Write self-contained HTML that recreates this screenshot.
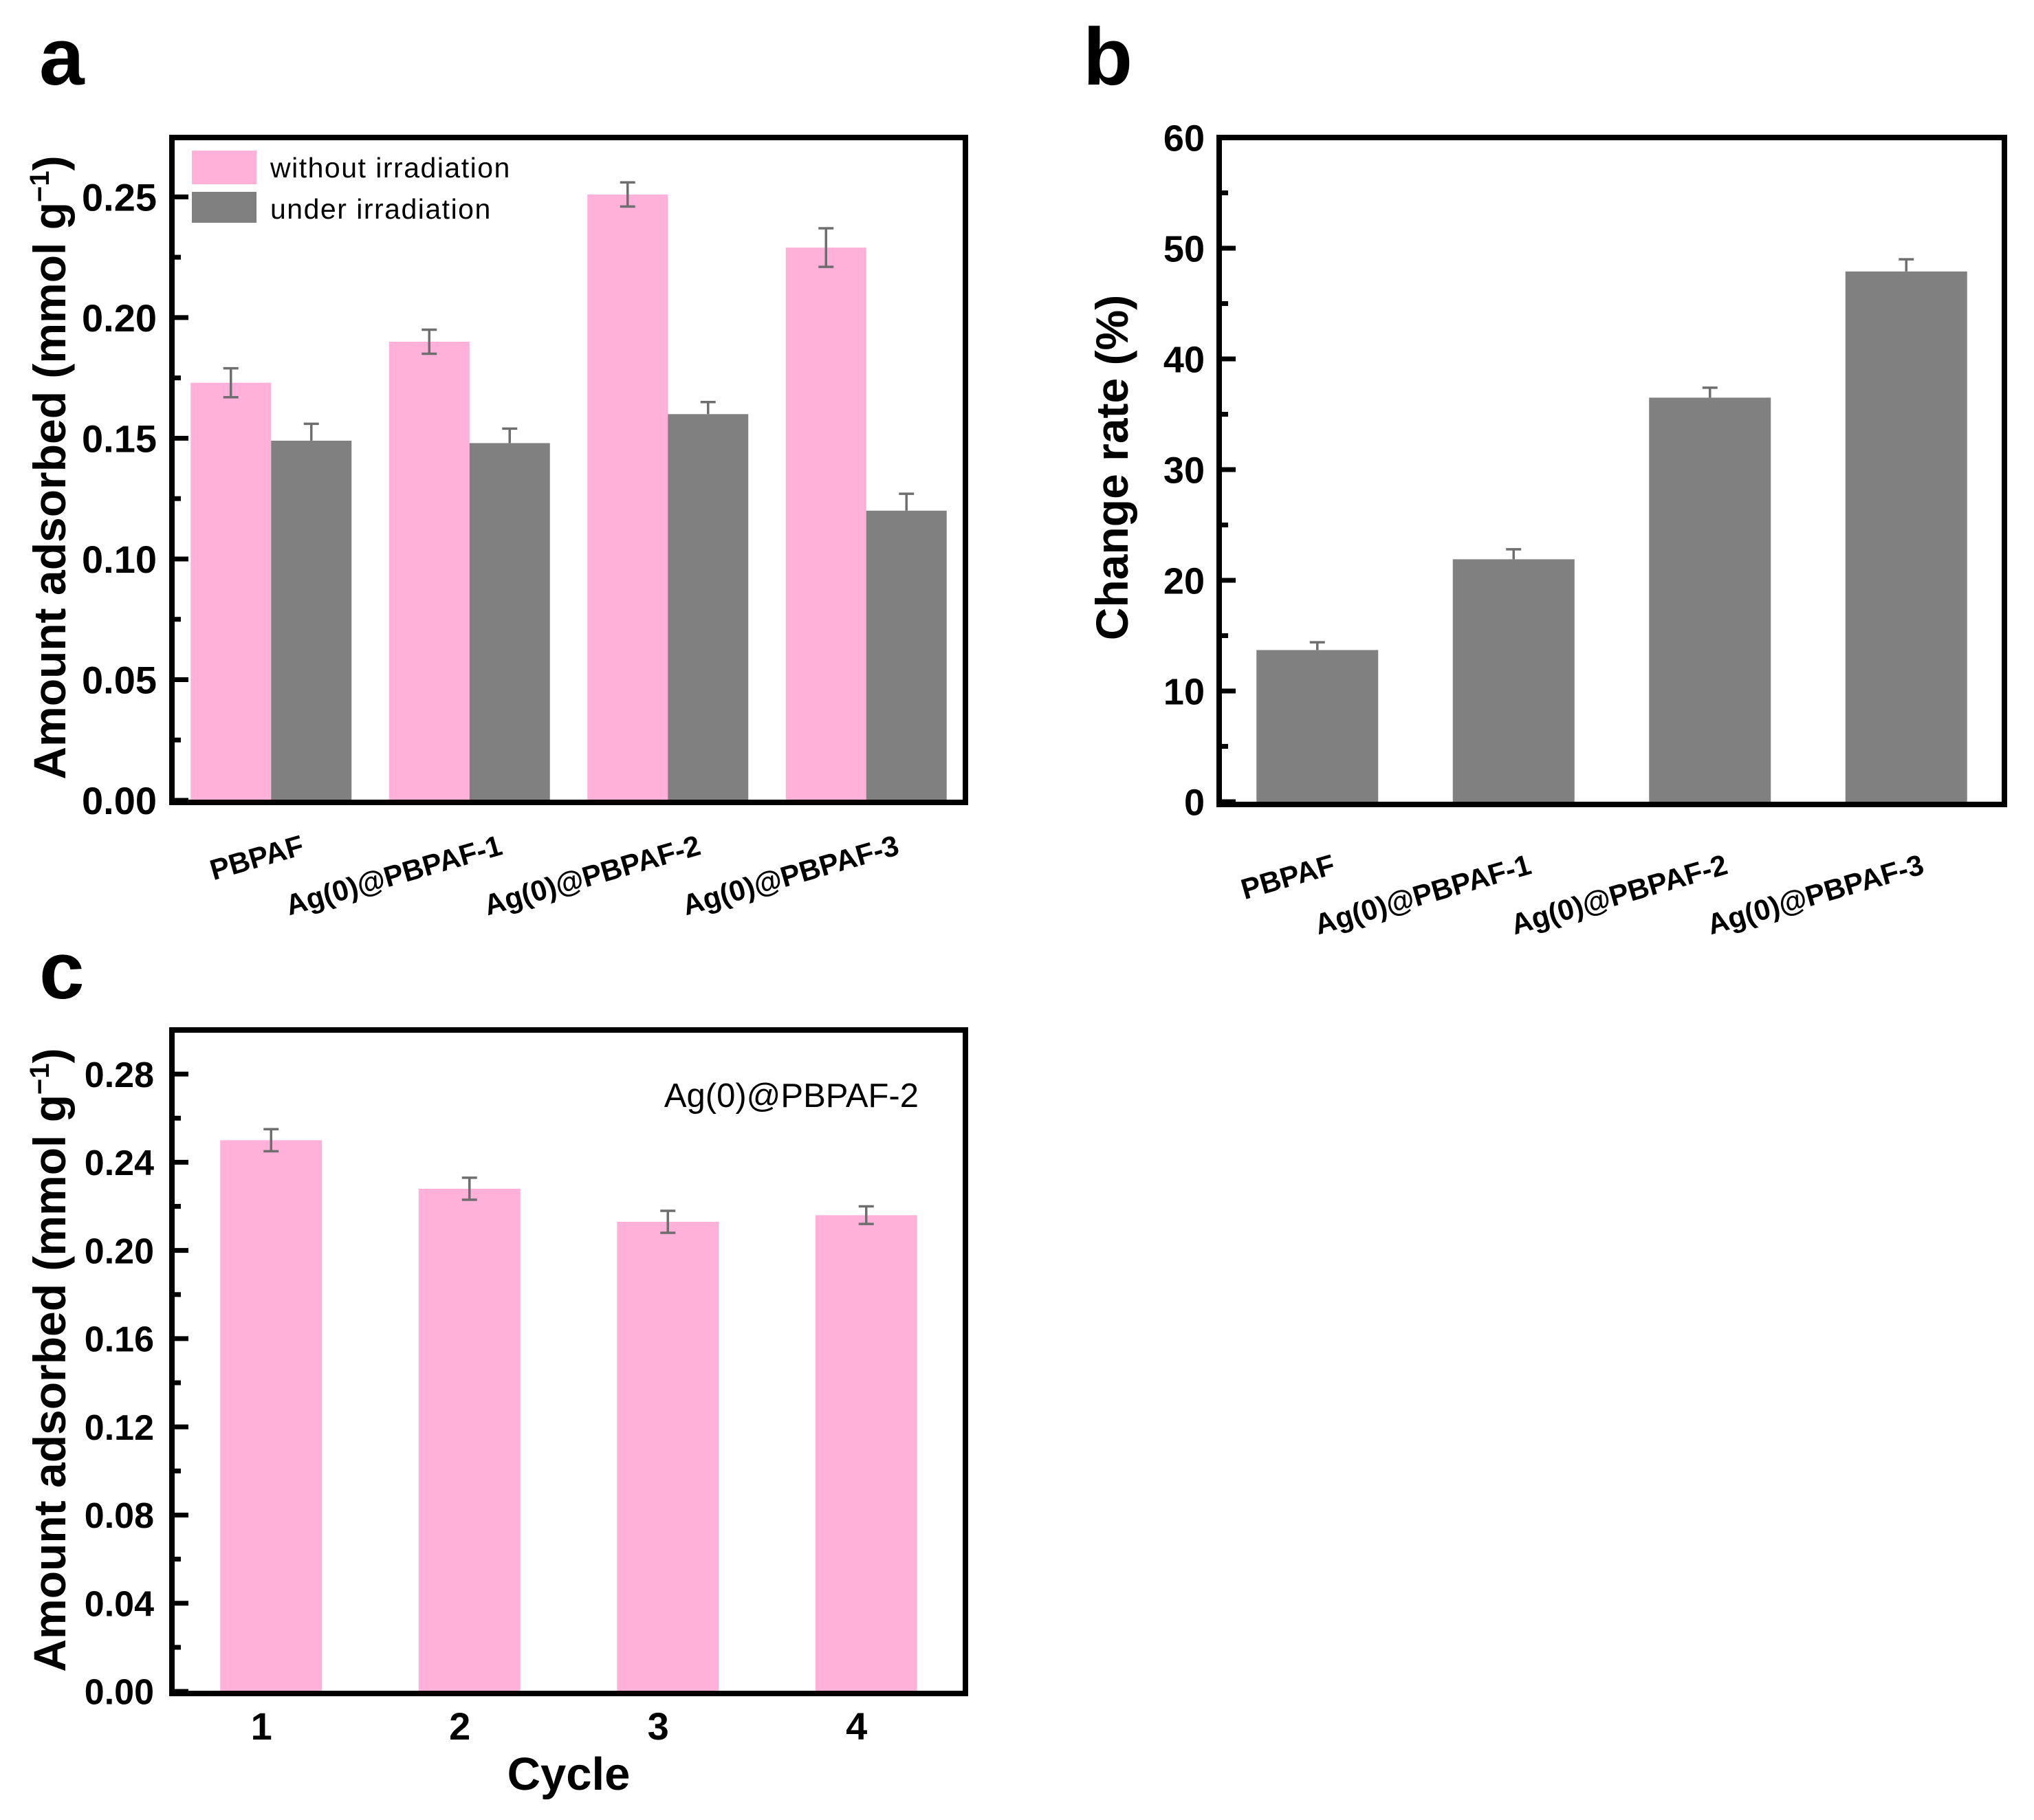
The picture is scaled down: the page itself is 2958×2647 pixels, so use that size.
<!DOCTYPE html>
<html><head><meta charset="utf-8"><style>
html,body{margin:0;padding:0;background:#fff;}
svg{display:block;font-family:"Liberation Sans",Arial,sans-serif;}
</style></head><body>
<svg id="fig" width="2958" height="2647" viewBox="0 0 2958 2647" xmlns="http://www.w3.org/2000/svg">
<text x="57" y="123" font-size="118" font-weight="bold">a</text>
<text x="1575" y="123" font-size="118" font-weight="bold">b</text>
<text x="57" y="1452" font-size="118" font-weight="bold">c</text>
<g id="pa"></g>
<g id="pb"></g>
<g id="pc"></g>
</svg>
<script>
// Panel a data
const catsA = ["PBPAF", "Ag(0)@PBPAF-1", "Ag(0)@PBPAF-2", "Ag(0)@PBPAF-3"];
const withoutIrr = [0.173, 0.190, 0.251, 0.229];
const withoutErr = [0.006, 0.005, 0.005, 0.008];
const underIrr = [0.149, 0.148, 0.160, 0.120];
const underErr = [0.007, 0.006, 0.005, 0.007];
const ticksA = ["0.00", "0.05", "0.10", "0.15", "0.20", "0.25"];
// Panel b data
const catsB = ["PBPAF", "Ag(0)@PBPAF-1", "Ag(0)@PBPAF-2", "Ag(0)@PBPAF-3"];
const changeRate = [13.7, 21.9, 36.5, 47.9];
const changeErr = [0.7, 0.9, 0.9, 1.1];
const ticksB = ["0", "10", "20", "30", "40", "50", "60"];
// Panel c data
const cycles = ["1", "2", "3", "4"];
const cycleVals = [0.250, 0.228, 0.213, 0.216];
const cycleErr = [0.005, 0.005, 0.005, 0.004];
const ticksC = ["0.00", "0.04", "0.08", "0.12", "0.16", "0.20", "0.24", "0.28"];

const NS = "http://www.w3.org/2000/svg";
const PINK = "#ffb1da", GRAY = "#808080", ERR = "#6e6e6e";
function mk(parent, tag, attrs, text) {
  const e = document.createElementNS(NS, tag);
  for (const k in attrs) e.setAttribute(k, attrs[k]);
  if (text !== undefined) e.textContent = text;
  parent.appendChild(e);
  return e;
}
function axes(g, L, R, T, B, ymax, y0px, tickLabels, tickStep, minorStep, labelRight, fmtSize, xticks, n, weight) {
  const y = v => y0px - v / ymax * (y0px - T);
  const x = i => L + (R - L) / n * (i + 0.5);
  for (let v = 0; v <= ymax + 1e-9; v += minorStep) {
    const isMajor = Math.abs(v / tickStep - Math.round(v / tickStep)) < 1e-6;
    const t = mk(g, "line", {x1: L, x2: L + (isMajor ? 24 : 13), y1: y(v), y2: y(v), stroke: "#000", "stroke-width": 7});
    
    
  }
  tickLabels.forEach((lab, i) => {
    const t = mk(g, "text", {x: labelRight, y: y(i * tickStep) + fmtSize * 0.36, "font-size": fmtSize, "font-weight": weight || "bold", "text-anchor": "end"}, lab);
    
    
  });
  if (xticks) {
    for (let i = 0; i < n; i++) {
      const t = mk(g, "line", {x1: x(i), x2: x(i), y1: B, y2: B - 20, stroke: "#000", "stroke-width": 7});
      
      
    }
  }
  return {x, y};
}
function frame(g, L, R, T, B) {
  const f = mk(g, "rect", {x: L, y: T, width: R - L, height: B - T, fill: "none", stroke: "#000", "stroke-width": 8});
  
  
}
function errbar(g, cx, top, bot, cap, full) {
  const e = mk(g, "path", {d: `M${cx},${bot}V${top}M${cx-cap},${top}H${cx+cap}` + (full ? `M${cx-cap},${bot}H${cx+cap}` : ""), stroke: ERR, "stroke-width": 3.5, fill: "none"});
  
  
}
function xlabels(g, cats, x, dx, yb) {
  cats.forEach((c, i) => {
    const ax = x(i) + dx;
    const t = mk(g, "text", {x: ax, y: yb, "font-size": 42, "font-weight": "bold", "text-anchor": "end", transform: `rotate(-16 ${ax} ${yb})`}, c);
    
    
  });
}

// ---- Panel a ----
(function(){
  const g = document.getElementById("pa");
  const L = 250, R = 1404, T = 200, B = 1167;
  const {x, y} = axes(g, L, R, T, B, 0.2746, 1164, ticksA, 0.05, 0.025, 228, 56, false, 4);
  const bw = 117;
  withoutIrr.forEach((v, i) => {
    const bx = x(i) - bw;
    const r = mk(g, "rect", {x: bx, y: y(v), width: bw, height: 1164 - y(v), fill: PINK});
    
    
    errbar(g, bx + bw / 2, y(v + withoutErr[i]), y(v - withoutErr[i]), 11, true);
  });
  underIrr.forEach((v, i) => {
    const bx = x(i);
    const r = mk(g, "rect", {x: bx, y: y(v), width: bw, height: 1164 - y(v), fill: GRAY});
    
    
    errbar(g, bx + bw / 2, y(v + underErr[i]), y(v), 11, false);
  });
  frame(g, L, R, T, B);
  const s1 = mk(g, "rect", {x: 279, y: 219, width: 94, height: 49, fill: PINK});
  
  
  const s2 = mk(g, "rect", {x: 279, y: 279, width: 94, height: 45, fill: GRAY});
  
  
  const l1 = mk(g, "text", {x: 393, y: 258, "font-size": 41, "letter-spacing": 1.5}, "without irradiation");
  
  
  const l2 = mk(g, "text", {x: 393, y: 318, "font-size": 41, "letter-spacing": 1.5}, "under irradiation");
  
  
  const yt = mk(g, "text", {x: 0, y: 0, "font-size": 66, "font-weight": "bold", "text-anchor": "middle", transform: "translate(95 680) rotate(-90)"});
  yt.innerHTML = 'Amount adsorbed (mmol g<tspan dy="-24" font-size="40">−1</tspan><tspan dy="24">)</tspan>';
  
  
  xlabels(g, catsA, x, 50, 1242);
})();

// ---- Panel b ----
(function(){
  const g = document.getElementById("pb");
  const L = 1773, R = 2915, T = 200, B = 1170;
  const {x, y} = axes(g, L, R, T, B, 60, 1166, ticksB, 10, 5, 1752, 54, true, 4);
  const bw = 177;
  changeRate.forEach((v, i) => {
    const r = mk(g, "rect", {x: x(i) - bw / 2, y: y(v), width: bw, height: 1166 - y(v), fill: GRAY});
    
    
    errbar(g, x(i), y(v + changeErr[i]), y(v), 11, false);
  });
  frame(g, L, R, T, B);
  const yt = mk(g, "text", {x: 0, y: 0, "font-size": 66, "font-weight": "bold", "text-anchor": "middle", transform: "translate(1640 680) rotate(-90)"}, "Change rate (%)");
  
  
  xlabels(g, catsB, x, 28, 1270);
})();

// ---- Panel c ----
(function(){
  const g = document.getElementById("pc");
  const L = 250, R = 1404, T = 1498, B = 2463;
  const {x, y} = axes(g, L, R, T, B, 0.30, 2460, ticksC, 0.04, 0.02, 224, 52, false, 4, "bold");
  const bw = 148;
  cycleVals.forEach((v, i) => {
    const r = mk(g, "rect", {x: x(i) - bw / 2, y: y(v), width: bw, height: 2460 - y(v), fill: PINK});
    
    
    errbar(g, x(i), y(v + cycleErr[i]), y(v - cycleErr[i]), 11, true);
  });
  frame(g, L, R, T, B);
  cycles.forEach((c, i) => {
    const t = mk(g, "text", {x: x(i) - 14, y: 2530, "font-size": 56, "font-weight": "bold", "text-anchor": "middle"}, c);
    
    
  });
  const xt = mk(g, "text", {x: 827, y: 2603, "font-size": 67, "font-weight": "bold", "text-anchor": "middle"}, "Cycle");
  
  
  const an = mk(g, "text", {x: 1336, y: 1610, "font-size": 49, "text-anchor": "end"}, "Ag(0)@PBPAF-2");
  
  
  const yt = mk(g, "text", {x: 0, y: 0, "font-size": 66, "font-weight": "bold", "text-anchor": "middle", transform: "translate(95 1978) rotate(-90)"});
  yt.innerHTML = 'Amount adsorbed (mmol g<tspan dy="-24" font-size="40">−1</tspan><tspan dy="24">)</tspan>';
  
  
})();
</script>
</body></html>
